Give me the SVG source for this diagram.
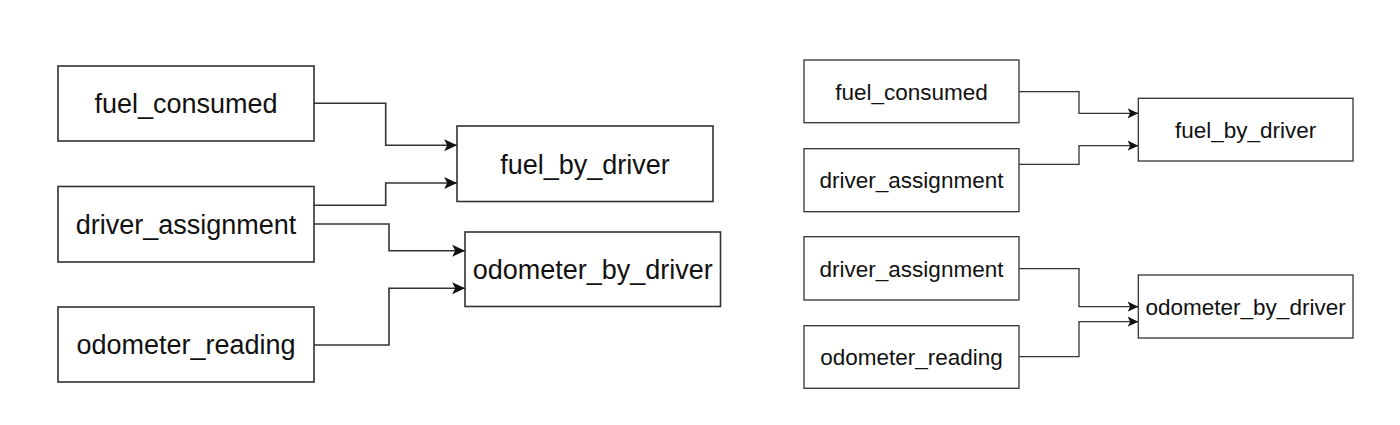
<svg xmlns="http://www.w3.org/2000/svg" width="1400" height="425" viewBox="0 0 1400 425">
  <style>
    .box { fill: #ffffff; stroke: #333333; }
    .L .box { stroke-width: 1.6; }
    .R .box { stroke-width: 1.3; }
    .lbl { font-family: "Liberation Sans", Arial, Helvetica, sans-serif; fill: #111111; text-anchor: middle; }
    .L .lbl { font-size: 27px; }
    .R .lbl { font-size: 22.5px; }
    .edge { fill: none; stroke: #333333; }
    .eL { stroke-width: 1.6; marker-end: url(#arrL); }
    .eR { stroke-width: 1.3; marker-end: url(#arrR); }
  </style>
  <defs>
    <marker id="arrL" markerUnits="userSpaceOnUse" markerWidth="14" markerHeight="14" refX="11" refY="6" orient="auto" viewBox="0 0 12 12">
      <path d="M0,0.8 L11,6 L0,11.2 L2.6,6 Z" fill="#111111"/>
    </marker>
    <marker id="arrR" markerUnits="userSpaceOnUse" markerWidth="12" markerHeight="12" refX="9" refY="5" orient="auto" viewBox="0 0 10 10">
      <path d="M0,0.7 L9,5 L0,9.3 L2.2,5 Z" fill="#111111"/>
    </marker>
  </defs>
  <rect width="1400" height="425" fill="#ffffff"/>

  <g class="L">
    <g id="L_fuel_consumed">
      <rect class="box" x="58" y="66" width="256" height="75"/>
      <text class="lbl" x="186" y="113.3">fuel_consumed</text>
    </g>
    <g id="L_driver_assignment">
      <rect class="box" x="58" y="186.5" width="256" height="75.5"/>
      <text class="lbl" x="186" y="234">driver_assignment</text>
    </g>
    <g id="L_odometer_reading">
      <rect class="box" x="58" y="307" width="256" height="75"/>
      <text class="lbl" x="186" y="354.3">odometer_reading</text>
    </g>
    <g id="L_fuel_by_driver">
      <rect class="box" x="457" y="126" width="256" height="75.5"/>
      <text class="lbl" x="585" y="173.5">fuel_by_driver</text>
    </g>
    <g id="L_odometer_by_driver">
      <rect class="box" x="465" y="232" width="255.5" height="74.5"/>
      <text class="lbl" x="592.7" y="279">odometer_by_driver</text>
    </g>
    <g id="L_connectors">
      <path class="edge eL" d="M314,103.3 H385.7 V145.3 H457"/>
      <path class="edge eL" d="M314,205.3 H385.7 V183 H457"/>
      <path class="edge eL" d="M314,224 H389 V250.7 H465"/>
      <path class="edge eL" d="M314,345 H389 V288.3 H465"/>
    </g>
  </g>

  <g class="R">
    <g id="R_fuel_consumed">
      <rect class="box" x="804" y="60" width="215" height="62.7"/>
      <text class="lbl" x="911.5" y="99.5">fuel_consumed</text>
    </g>
    <g id="R_driver_assignment">
      <rect class="box" x="804" y="148.7" width="215" height="63"/>
      <text class="lbl" x="911.5" y="188.3">driver_assignment</text>
    </g>
    <g id="R_driver_assignment_2">
      <rect class="box" x="804" y="236.7" width="215" height="63.3"/>
      <text class="lbl" x="911.5" y="276.5">driver_assignment</text>
    </g>
    <g id="R_odometer_reading">
      <rect class="box" x="804" y="325.7" width="215" height="62.6"/>
      <text class="lbl" x="911.5" y="365">odometer_reading</text>
    </g>
    <g id="R_fuel_by_driver">
      <rect class="box" x="1138.3" y="98.3" width="214.7" height="62.7"/>
      <text class="lbl" x="1245.6" y="137.8">fuel_by_driver</text>
    </g>
    <g id="R_odometer_by_driver">
      <rect class="box" x="1138.3" y="275" width="214.7" height="63"/>
      <text class="lbl" x="1245.6" y="314.6">odometer_by_driver</text>
    </g>
    <g id="R_connectors">
      <path class="edge eR" d="M1019,91.7 H1079 V113.3 H1138.3"/>
      <path class="edge eR" d="M1019,164.3 H1079 V145.7 H1138.3"/>
      <path class="edge eR" d="M1019,268.7 H1079 V306.7 H1138.3"/>
      <path class="edge eR" d="M1019,356.7 H1079 V321.7 H1138.3"/>
    </g>
  </g>
</svg>
